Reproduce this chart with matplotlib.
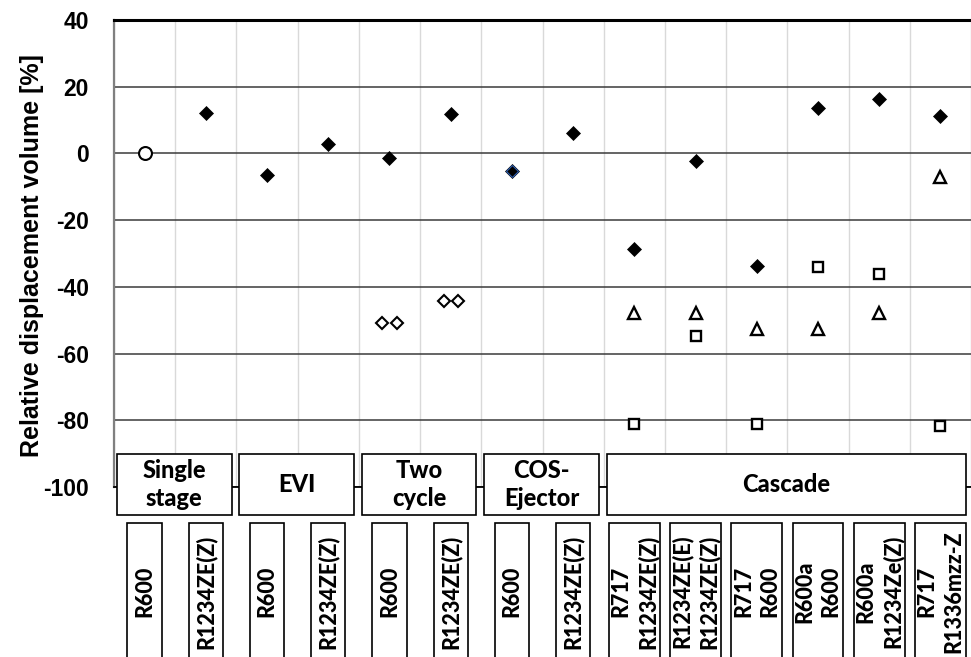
import matplotlib
matplotlib.use("Agg")
import matplotlib.pyplot as plt
from matplotlib.patches import Rectangle
from matplotlib.transforms import blended_transform_factory

# ---------------- data ----------------
categories = ["R600", "R1234ZE(Z)", "R600", "R1234ZE(Z)", "R600", "R1234ZE(Z)",
              "R600", "R1234ZE(Z)", "R717\nR1234ZE(Z)", "R1234ZE(E)\nR1234ZE(Z)",
              "R717\nR600", "R600a\nR600", "R600a\nR1234Ze(Z)", "R717\nR1336mzz-Z"]
groups = ["Single\nstage", "EVI", "Two\ncycle", "COS-\nEjector", "Cascade"]
group_start = [0, 2, 4, 6, 8]
group_end = [1, 3, 5, 7, 13]

baseline_idx = [0]
baseline_val = [0.0]
diamond_idx = [1, 2, 3, 4, 5, 6, 7, 8, 9, 10, 11, 12, 13]
diamond_val = [12.0, -6.5, 2.7, -1.5, 11.7, -5.3, 6.2, -28.8, -2.4, -33.7, 13.7, 16.2, 11.2]
open_diamond_idx = [4, 5]
open_diamond_val = [-50.8, -44.1]
triangle_idx = [8, 9, 10, 11, 12, 13]
triangle_val = [-47.8, -47.8, -52.6, -52.6, -47.8, -7.0]
square_idx = [8, 9, 10, 11, 12, 13]
square_val = [-81.1, -54.7, -81.1, -34.0, -36.2, -81.7]
yticks = [-100, -80, -60, -40, -20, 0, 20, 40]
ylabel = "Relative displacement volume [%]"

# ---------------- figure ----------------
W, H = 971, 657
fig = plt.figure(figsize=(W / 100, H / 100), dpi=100)
ax_left, ax_top, ax_bottom = 114, 20, 487
col_px = 61.7
ax = fig.add_axes([ax_left / W, 1 - ax_bottom / H, (W - ax_left) / W, (ax_bottom - ax_top) / H])
ax.set_xlim(-0.5, -0.5 + (W - ax_left) / col_px)
ax.set_ylim(-100, 40)

# grid
ax.set_yticks(yticks)
ax.set_yticklabels([str(v) for v in yticks], fontsize=16.5, fontweight="bold",
                   family="Liberation Sans")
ax.tick_params(axis="y", length=0, pad=18)
ax.set_xticks([])
ax.set_xticks([i - 0.5 for i in range(len(categories) + 1)], minor=True)
ax.tick_params(axis="x", which="both", length=0, labelbottom=False)
ax.grid(True, which="minor", axis="x", color="#d9d9d9", lw=1.0)
ax.grid(True, which="major", axis="y", color="#3a3a3a", lw=1.1)
ax.set_axisbelow(True)
ax.spines["right"].set_visible(False)
ax.spines["top"].set_color("black")
ax.spines["top"].set_linewidth(2.2)
ax.spines["left"].set_color("#808080")
ax.spines["left"].set_linewidth(1.6)
ax.spines["bottom"].set_color("black")
ax.spines["bottom"].set_linewidth(1.3)

# markers
ax.plot(baseline_idx, baseline_val, ls="none", marker="o", ms=9.3, mfc="white",
        mec="black", mew=1.5, zorder=3)
ax.plot(diamond_idx, diamond_val, ls="none", marker="D", ms=7, mfc="black",
        mec="black", mew=0.5, zorder=3)
# one point drawn with blue edge as in the reference
ax.plot([diamond_idx[5]], [diamond_val[5]], ls="none", marker="D", ms=6.5, mfc="black",
        mec="#2e5fb0", mew=0.8, zorder=4)
for off in (-0.115, 0.115):
    ax.plot([i + off for i in open_diamond_idx], open_diamond_val, ls="none", marker="D",
            ms=6.3, mfc="white", mec="black", mew=1.5, zorder=3)
ax.plot(triangle_idx, triangle_val, ls="none", marker="^", ms=9, mfc="white",
        mec="black", mew=1.7, zorder=3)
ax.plot(square_idx, square_val, ls="none", marker="s", ms=7.5, mfc="white",
        mec="black", mew=1.7, zorder=3)

# y label
fig.text(32 / W, 1 - 256 / H, ylabel, rotation=90, ha="center", va="center",
         fontsize=18, fontweight="bold", family="Liberation Sans")

# category boxes
blend = blended_transform_factory(ax.transData, fig.transFigure)
g_top, g_bot = 1 - 454 / H, 1 - 515 / H
for name, a, b in zip(groups, group_start, group_end):
    x0 = a - 0.5 + 0.05
    x1 = b + 0.5 - 0.08
    ax.add_patch(Rectangle((x0, g_bot), x1 - x0, g_top - g_bot, transform=blend,
                           clip_on=False, fc="white", ec="black", lw=1.2, zorder=6))
    ax.text((x0 + x1) / 2, (g_top + g_bot) / 2, name, transform=blend, ha="center",
            va="center", multialignment="center", fontsize=17, fontweight="black",
            family="Lato", linespacing=1.3, clip_on=False, zorder=7)

c_top = 1 - 523 / H
for i, lab in enumerate(categories):
    w = 0.83 if "\n" in lab else 0.56
    ax.add_patch(Rectangle((i - w / 2, -0.1), w, c_top + 0.1, transform=blend,
                           clip_on=False, fc="white", ec="black", lw=1.2, zorder=6))
    ax.text(i, 1 - 591.5 / H, lab, transform=blend, rotation=90, ha="center",
            va="center", multialignment="center", fontsize=15.5, fontweight="black",
            family="Lato", linespacing=1.3, clip_on=False, zorder=7)

fig.savefig("out.png", dpi=100)
